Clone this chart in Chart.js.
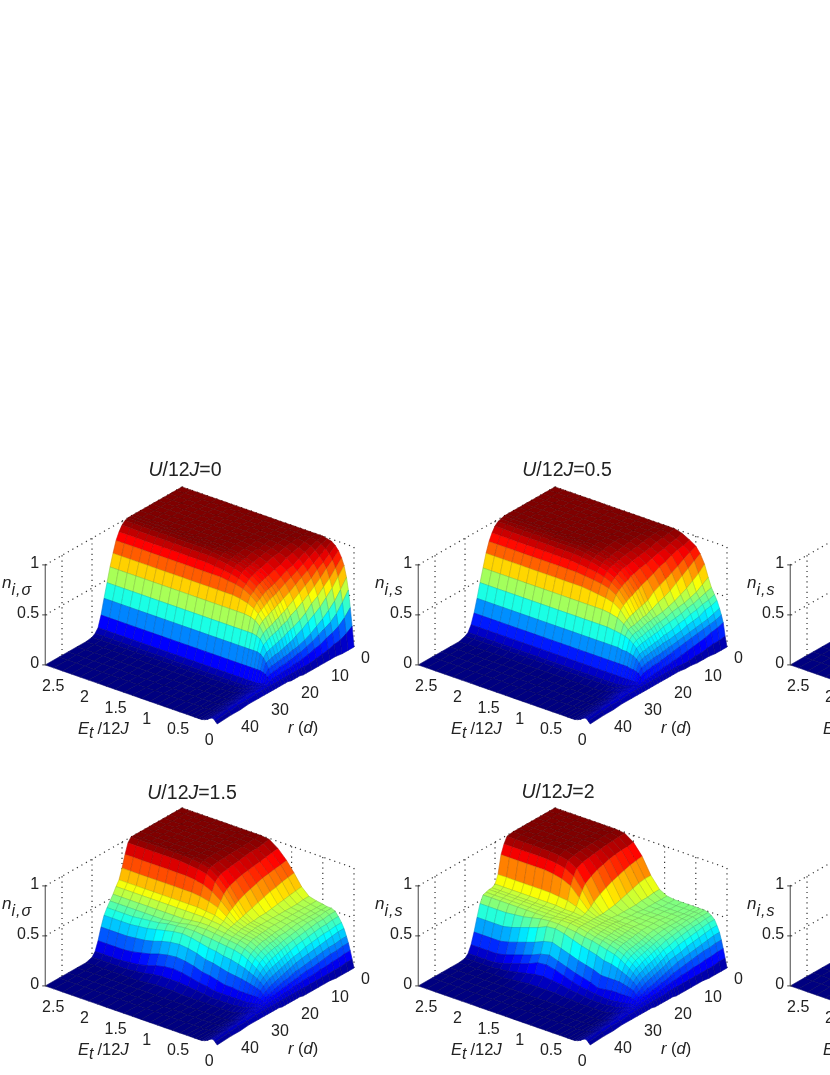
<!DOCTYPE html>
<html>
<head>
<meta charset="utf-8">
<script src="https://cdn.jsdelivr.net/npm/chart.js@4"></script>
<style>
html, body { margin: 0; padding: 0; background: #fff; width: 830px; height: 1075px; overflow: hidden; }
#page { position: relative; width: 830px; height: 1075px; overflow: hidden; font-family: "Liberation Sans", sans-serif; color: #222; }
.panel { position: absolute; width: 373px; height: 320px; }
.panel canvas { position: absolute; left: 0; top: 0; filter: blur(0.45px); }
.lbl { position: absolute; white-space: nowrap; font-size: 16.5px; line-height: 1; transform: translateY(-50%); }
.ttl { font-size: 19.5px; transform: translate(-50%, -50%); }
.nlb { font-size: 17px; }
.nlb sub { font-size: 16px; letter-spacing: 1px; vertical-align: -7px; line-height: 0; }
.etl sub { font-size: 16px; font-style: italic; vertical-align: -4px; line-height: 0; margin-right: 4px; }
</style>
</head>
<body>
<div id="page"></div>
<script>
// axis values
const eValues = [0,0.03,0.06,0.09,0.12,0.16,0.2,0.25,0.3,0.36,0.43,0.5,0.6,0.72,0.84,0.96,1.08,1.22,1.36,1.5,1.64,1.78,1.92,2.06,2.2,2.34,2.48,2.62,2.756];
const rValues = [0,2,4,6,8,10,12,14,16,17,18,19,20,21,22,23,24,25,26,27,28,29,30,32,35,38,41,45.6];
const eTicks = [0,0.5,1,1.5,2,2.5];
const rTicks = [0,10,20,30,40];
const zTicks = [0,0.5,1];

// n (in percent), one line per r, one column per E
const nU0 = [
[0,20,38,55,67,78,85,91,95,98,99,100,100,100,100,100,100,100,100,100,100,100,100,100,100,100,100,100,100],
[0,16,31,46,58,70,78,85,90,94,97,99,100,100,100,100,100,100,100,100,100,100,100,100,100,100,100,100,100],
[0,13,26,38,50,62,71,80,85,90,94,97,99,100,100,100,100,100,100,100,100,100,100,100,100,100,100,100,100],
[1,12,23,33,44,56,66,74,81,86,91,94,97,99,100,100,100,100,100,100,100,100,100,100,100,100,100,100,100],
[1,10,21,30,39,50,60,69,76,82,87,91,95,98,99,100,100,100,100,100,100,100,100,100,100,100,100,100,100],
[1,9,18,27,35,46,56,64,72,79,84,88,93,96,98,99,100,100,100,100,100,100,100,100,100,100,100,100,100],
[1,8,17,24,31,42,50,60,68,75,81,86,90,95,97,98,99,100,100,100,100,100,100,100,100,100,100,100,100],
[1,7,15,22,28,38,46,56,64,71,78,83,88,93,96,98,99,100,100,100,100,100,100,100,100,100,100,100,100],
[1,7,14,20,26,35,43,53,60,68,75,80,86,91,94,96,98,99,100,100,100,100,100,100,100,100,100,100,100],
[1,7,13,20,25,33,42,50,58,66,73,79,85,90,93,96,98,99,100,100,100,100,100,100,100,100,100,100,100],
[2,7,13,19,25,32,41,49,57,65,72,78,84,89,93,95,97,99,99,100,100,100,100,100,100,100,100,100,100],
[2,7,13,18,24,31,39,48,55,63,71,77,83,88,92,95,96,97,98,99,99,99,99,99,99,99,99,99,99],
[2,7,12,18,23,30,38,46,54,62,69,75,81,86,90,92,94,95,96,96,96,96,96,96,96,96,96,96,96],
[2,7,12,17,23,29,37,45,52,60,67,73,78,83,86,88,89,90,91,91,91,91,91,91,91,91,91,91,91],
[3,7,12,17,22,28,36,44,51,59,65,71,76,80,82,83,84,84,84,84,84,84,84,84,84,84,84,84,84],
[3,7,12,17,22,28,35,43,50,57,63,67,70,72,73,73,73,73,73,73,73,73,73,73,73,73,73,73,73],
[3,7,11,16,21,27,34,41,48,54,58,60,61,61,61,61,61,61,61,61,61,61,61,61,61,61,61,61,61],
[3,7,11,16,21,26,33,39,44,46,47,47,47,47,47,47,47,47,47,47,47,47,47,47,47,47,47,47,47],
[3,7,11,15,20,25,29,32,33,33,33,33,33,33,33,33,33,33,33,33,33,33,33,33,33,33,33,33,33],
[3,7,10,14,16,17,18,18,18,18,18,18,18,18,18,18,18,18,18,18,18,18,18,18,18,18,18,18,18],
[3,7,8,9,8,8,7,7,7,7,7,7,7,7,7,7,7,7,7,7,7,7,7,7,7,7,7,7,7],
[3,7,9,8,8,7,6,5,4,3,3,3,3,3,3,3,3,3,3,3,3,3,3,3,3,3,3,3,3],
[3,7,9,8,7,6,5,4,3,2,1,1,1,1,1,1,1,1,1,1,1,1,1,1,1,1,1,1,1],
[3,7,9,8,7,6,4,3,2,1,0,0,0,0,0,0,0,0,0,0,0,0,0,0,0,0,0,0,0],
[3,6,8,8,6,5,4,2,1,0,0,0,0,0,0,0,0,0,0,0,0,0,0,0,0,0,0,0,0],
[2,6,8,7,6,4,3,2,1,0,0,0,0,0,0,0,0,0,0,0,0,0,0,0,0,0,0,0,0],
[2,5,7,6,5,3,2,1,0,0,0,0,0,0,0,0,0,0,0,0,0,0,0,0,0,0,0,0,0],
[1,3,5,5,4,2,1,0,0,0,0,0,0,0,0,0,0,0,0,0,0,0,0,0,0,0,0,0,0]
];
const nU05 = [
[0,10,23,30,36,43,48,54,63,75,84,90,94,98,100,100,100,100,100,100,100,100,100,100,100,100,100,100,100],
[0,9,21,28,34,41,46,52,59,69,80,87,92,96,99,100,100,100,100,100,100,100,100,100,100,100,100,100,100],
[0,9,20,27,32,40,45,50,55,65,76,84,91,95,98,100,100,100,100,100,100,100,100,100,100,100,100,100,100],
[1,8,18,26,31,37,43,48,53,61,72,80,89,93,97,99,100,100,100,100,100,100,100,100,100,100,100,100,100],
[1,7,17,25,30,36,42,47,51,58,68,77,86,92,95,98,100,100,100,100,100,100,100,100,100,100,100,100,100],
[1,7,16,24,29,35,40,45,50,55,64,74,84,90,94,97,99,100,100,100,100,100,100,100,100,100,100,100,100],
[2,6,15,23,28,33,39,44,49,53,61,71,81,88,93,96,98,100,100,100,100,100,100,100,100,100,100,100,100],
[2,6,14,22,27,32,37,43,47,51,59,68,78,87,92,95,97,99,100,100,100,100,100,100,100,100,100,100,100],
[3,7,13,21,26,31,36,42,46,50,56,63,76,85,90,94,96,98,100,100,100,100,100,100,100,100,100,100,100],
[3,7,13,20,26,31,36,41,46,50,55,62,74,84,90,93,95,98,99,100,100,100,100,100,100,100,100,100,100],
[3,7,12,20,25,31,35,40,45,49,53,61,73,82,89,92,95,97,98,99,99,99,99,99,99,99,99,99,99],
[3,7,12,19,25,30,34,40,44,49,53,60,71,81,87,91,93,95,97,98,98,98,98,98,98,98,98,98,98],
[3,7,12,19,24,30,34,39,44,48,52,59,70,79,85,89,91,93,94,95,95,95,95,95,95,95,95,95,95],
[3,7,11,18,24,29,33,39,43,47,51,58,68,77,82,85,87,88,89,90,90,90,90,90,90,90,90,90,90],
[3,7,11,18,24,29,33,38,42,46,50,57,66,74,78,80,81,82,83,83,83,83,83,83,83,83,83,83,83],
[3,7,11,18,23,28,32,38,42,46,50,55,63,68,70,71,72,73,73,73,73,73,73,73,73,73,73,73,73],
[3,7,10,17,23,28,32,37,41,45,49,53,57,59,60,60,60,60,60,60,60,60,60,60,60,60,60,60,60],
[3,7,10,17,22,27,31,36,39,42,44,45,46,47,47,47,47,47,47,47,47,47,47,47,47,47,47,47,47],
[3,7,10,16,21,25,28,30,31,32,32,33,33,33,33,33,33,33,33,33,33,33,33,33,33,33,33,33,33],
[3,7,9,14,17,18,19,19,20,20,20,20,20,20,20,20,20,20,20,20,20,20,20,20,20,20,20,20,20],
[3,7,8,10,10,10,10,10,10,10,10,10,10,10,10,10,10,10,10,10,10,10,10,10,10,10,10,10,10],
[3,7,9,9,8,7,6,5,5,4,4,4,4,4,4,4,4,4,4,4,4,4,4,4,4,4,4,4,4],
[3,7,9,9,8,7,6,5,4,3,2,2,2,2,2,2,2,2,2,2,2,2,2,2,2,2,2,2,2],
[3,7,9,9,8,7,5,4,3,2,1,0,0,0,0,0,0,0,0,0,0,0,0,0,0,0,0,0,0],
[3,6,8,8,6,5,4,2,1,0,0,0,0,0,0,0,0,0,0,0,0,0,0,0,0,0,0,0,0],
[2,6,8,7,6,4,3,2,1,0,0,0,0,0,0,0,0,0,0,0,0,0,0,0,0,0,0,0,0],
[2,5,7,6,5,3,2,1,0,0,0,0,0,0,0,0,0,0,0,0,0,0,0,0,0,0,0,0,0],
[1,3,5,5,4,2,1,0,0,0,0,0,0,0,0,0,0,0,0,0,0,0,0,0,0,0,0,0,0]
];
const nU15 = [
[0,8,16,23,29,36,41,46,50,52,52,53,54,56,63,74,84,93,99,100,100,100,100,100,100,100,100,100,100],
[0,8,16,23,29,36,41,46,50,52,52,53,54,56,62,73,83,92,98,100,100,100,100,100,100,100,100,100,100],
[0,7,15,22,28,35,40,45,49,51,52,53,54,55,61,72,82,91,97,100,100,100,100,100,100,100,100,100,100],
[0,7,15,22,28,34,40,45,49,51,52,53,54,55,60,70,81,90,97,99,100,100,100,100,100,100,100,100,100],
[1,7,14,21,27,33,39,44,48,51,52,53,54,55,59,69,80,89,96,99,100,100,100,100,100,100,100,100,100],
[1,7,14,20,26,32,38,43,47,50,52,53,54,55,58,67,78,88,95,99,100,100,100,100,100,100,100,100,100],
[1,7,13,19,25,31,37,42,46,49,51,53,54,55,57,65,76,87,94,98,100,100,100,100,100,100,100,100,100],
[1,7,13,19,24,30,35,41,45,48,50,52,54,55,57,63,74,85,93,98,100,100,100,100,100,100,100,100,100],
[1,7,13,18,23,29,34,39,44,47,50,52,54,55,56,61,71,83,92,97,99,100,100,100,100,100,100,100,100],
[1,7,12,17,23,28,33,38,43,46,49,51,53,55,56,60,69,81,90,96,98,99,100,100,100,100,100,100,100],
[2,7,12,17,22,27,32,37,42,45,48,51,53,55,56,59,67,78,87,92,94,95,96,96,96,96,96,96,96],
[2,7,12,16,21,26,31,36,41,45,48,50,53,54,55,58,65,73,79,83,85,86,86,86,86,86,86,86,86],
[2,7,11,16,20,25,30,35,40,44,47,50,52,54,55,57,62,68,71,73,74,74,74,74,74,74,74,74,74],
[2,7,11,15,20,24,29,34,39,43,46,49,52,53,54,56,59,62,63,64,64,64,64,64,64,64,64,64,64],
[2,7,11,15,19,23,28,33,38,42,45,48,51,52,53,55,57,58,59,59,59,59,59,59,59,59,59,59,59],
[2,7,11,14,18,22,27,32,36,40,43,46,49,51,52,53,54,55,55,54,53,53,53,53,53,53,53,53,53],
[2,7,10,14,17,21,26,30,34,38,41,44,47,49,50,51,52,53,53,52,50,49,48,48,48,48,48,48,48],
[3,7,10,13,16,20,24,28,31,34,37,40,43,45,46,47,48,49,50,50,49,48,46,45,44,43,43,43,43],
[3,7,10,13,15,18,22,25,27,29,31,33,35,37,38,40,41,43,45,46,45,43,41,39,38,37,37,37,37],
[3,7,10,12,14,16,19,20,21,22,23,24,25,26,28,30,31,34,36,37,36,34,31,29,28,27,27,27,27],
[3,7,9,11,12,13,14,14,14,14,14,14,15,15,17,19,20,23,25,26,25,23,20,18,16,15,15,15,15],
[3,7,9,10,10,10,9,9,8,8,8,8,8,8,8,10,11,13,15,16,15,13,10,8,7,6,6,6,6],
[3,7,9,9,9,8,7,6,5,4,4,3,3,3,3,4,5,6,7,7,7,6,4,3,2,2,2,2,2],
[3,7,9,9,8,7,5,4,3,2,1,1,1,1,1,1,1,1,2,2,2,1,0,0,0,0,0,0,0],
[3,6,8,8,6,5,4,2,1,0,0,0,0,0,0,0,0,0,0,0,0,0,0,0,0,0,0,0,0],
[2,6,8,7,6,4,3,2,1,0,0,0,0,0,0,0,0,0,0,0,0,0,0,0,0,0,0,0,0],
[2,5,7,6,5,3,2,1,0,0,0,0,0,0,0,0,0,0,0,0,0,0,0,0,0,0,0,0,0],
[1,3,5,5,4,2,1,0,0,0,0,0,0,0,0,0,0,0,0,0,0,0,0,0,0,0,0,0,0]
];
const nU2 = [
[0,9,18,26,33,39,44,47,49,50,50,50,50,50,50,51,55,66,82,93,99,100,100,100,100,100,100,100,100],
[0,9,18,26,33,39,44,47,49,50,50,50,50,50,50,51,55,66,81,92,99,100,100,100,100,100,100,100,100],
[0,8,17,25,32,38,43,46,49,50,50,50,50,50,50,51,54,65,80,92,98,100,100,100,100,100,100,100,100],
[0,8,17,25,31,37,42,46,48,50,50,51,51,51,51,51,54,63,78,91,98,100,100,100,100,100,100,100,100],
[1,8,16,24,30,36,41,45,48,49,50,51,51,51,51,51,53,61,76,90,97,100,100,100,100,100,100,100,100],
[1,8,16,23,29,35,40,44,47,49,50,51,52,52,52,52,53,59,74,88,96,99,100,100,100,100,100,100,100],
[1,8,15,22,28,33,39,43,46,48,50,51,52,52,52,52,53,57,71,86,95,99,100,100,100,100,100,100,100],
[1,8,15,21,27,32,37,41,45,47,49,51,52,52,53,53,53,56,68,83,94,98,100,100,100,100,100,100,100],
[1,8,14,20,25,31,36,40,43,46,48,50,52,53,53,53,54,55,64,79,91,96,98,99,99,99,99,99,99],
[1,8,14,19,24,29,34,38,42,45,47,49,51,53,53,54,54,55,61,74,85,90,92,93,93,93,93,93,93],
[2,8,13,18,23,28,33,37,41,44,46,48,51,52,53,54,54,55,59,68,77,81,83,84,84,84,84,84,84],
[2,8,13,17,22,27,31,36,40,43,45,47,50,52,53,54,54,55,57,61,64,65,66,66,66,66,66,66,66],
[2,7,12,17,21,26,30,35,39,42,45,47,50,51,53,54,54,55,56,57,57,58,58,58,58,58,58,58,58],
[2,7,12,16,20,25,29,34,38,41,44,46,49,51,52,53,54,55,56,56,56,56,56,56,56,56,56,56,56],
[2,7,11,15,19,24,28,33,37,40,43,46,49,50,52,53,54,55,56,56,56,56,56,56,56,56,56,56,56],
[2,7,11,15,18,23,27,31,35,39,42,45,48,50,51,52,54,55,56,56,55,55,55,55,55,55,55,55,55],
[2,7,11,14,18,22,26,30,34,37,40,43,46,48,50,51,53,55,56,56,55,54,54,54,54,54,54,54,54],
[3,7,10,13,16,20,24,28,31,34,37,40,43,45,47,49,50,52,53,54,54,53,51,49,48,47,47,47,47],
[3,7,10,13,15,18,22,25,27,29,31,33,35,36,39,41,43,46,49,51,50,46,43,40,37,35,35,35,35],
[3,7,10,12,14,16,19,20,21,22,23,23,23,23,26,28,30,33,36,39,37,33,30,27,24,22,22,22,22],
[3,7,9,11,12,13,14,14,14,14,14,14,13,12,15,17,19,22,25,28,26,22,19,16,13,11,11,11,11],
[3,7,9,10,10,10,9,9,8,8,7,7,7,8,9,10,12,15,18,20,19,15,12,9,6,4,4,4,4],
[3,7,9,9,9,8,7,6,5,4,4,3,3,3,4,5,6,8,9,10,9,7,5,3,2,1,1,1,1],
[3,7,9,9,8,7,5,4,3,2,1,1,1,1,1,2,2,3,3,3,3,2,1,0,0,0,0,0,0],
[3,6,8,8,6,5,4,2,1,0,0,0,0,0,0,0,0,0,0,0,0,0,0,0,0,0,0,0,0],
[2,6,8,7,6,4,3,2,1,0,0,0,0,0,0,0,0,0,0,0,0,0,0,0,0,0,0,0,0],
[2,5,7,6,5,3,2,1,0,0,0,0,0,0,0,0,0,0,0,0,0,0,0,0,0,0,0,0,0],
[1,3,5,5,4,2,1,0,0,0,0,0,0,0,0,0,0,0,0,0,0,0,0,0,0,0,0,0,0]
];
// the two panels cut off by the right edge: only the floor corner shows
const sideE = [2.06,2.2,2.34,2.48,2.62,2.756];
const sideR = [32,35,38,41,45.6];
const nSide = [
[0,0,0,0,0,0],
[0,0,0,0,0,0],
[0,0,0,0,0,0],
[0,0,0,0,0,0],
[0,0,0,0,0,0]
];

const E_MAX = 2.756, R_MAX = 45.6;

// fixed view of the 3D box, in the units of the two linear scales
const planeX = (e, r) => 354 - 62.4 * e - 3 * r;
const planeY = (e, r, z) => 100 * z + 21.8 * e - 1.71 * r;

function jet(v) {
    const c = x => Math.round(255 * Math.max(0, Math.min(1, x)));
    return `rgb(${c(1.5 - Math.abs(4 * v - 3))},${c(1.5 - Math.abs(4 * v - 2))},${c(1.5 - Math.abs(4 * v - 1))})`;
}

const surfacePlugin = {
    id: 'surface',
    beforeDatasetsDraw(chart, args, opts) {
        const ctx = chart.ctx;
        const pt = (e, r, z) => [chart.scales.x.getPixelForValue(planeX(e, r)), chart.scales.y.getPixelForValue(planeY(e, r, z))];
        const seg = (a, b) => { ctx.beginPath(); ctx.moveTo(a[0], a[1]); ctx.lineTo(b[0], b[1]); ctx.stroke(); };
        ctx.save();
        ctx.strokeStyle = '#333';
        ctx.lineWidth = 1.2;
        ctx.setLineDash([1.2, 4]);
        // back walls
        zTicks.filter(z => z > 0).forEach(z => {
            seg(pt(E_MAX, R_MAX, z), pt(E_MAX, 0, z));
            seg(pt(E_MAX, 0, z), pt(0, 0, z));
        });
        rTicks.forEach(r => seg(pt(E_MAX, r, 0), pt(E_MAX, r, 1)));
        eTicks.forEach(e => seg(pt(e, 0, 0), pt(e, 0, 1)));
        seg(pt(E_MAX, 0, 0), pt(E_MAX, 0, 1));
        ctx.restore();
    },
    afterDatasetsDraw(chart, args, opts) {
        const ctx = chart.ctx;
        const es = opts.es, rs = opts.rs, grid = opts.grid;
        const pts = chart.getDatasetMeta(0).data;
        const nE = es.length;
        ctx.save();
        ctx.lineJoin = 'round';
        // back to front: r grows towards the viewer, E shrinks towards the viewer
        for (let i = 0; i < rs.length - 1; i++) {
            for (let j = nE - 2; j >= 0; j--) {
                const a = pts[i * nE + j], b = pts[i * nE + j + 1], c = pts[(i + 1) * nE + j + 1], d = pts[(i + 1) * nE + j];
                const v = (grid[i][j] + grid[i][j + 1] + grid[i + 1][j] + grid[i + 1][j + 1]) / 400;
                ctx.beginPath();
                ctx.moveTo(a.x, a.y);
                ctx.lineTo(b.x, b.y);
                ctx.lineTo(c.x, c.y);
                ctx.lineTo(d.x, d.y);
                ctx.closePath();
                ctx.fillStyle = jet(v);
                ctx.fill();
                ctx.strokeStyle = jet(v);
                ctx.lineWidth = 0.5;
                ctx.stroke();
                ctx.strokeStyle = 'rgba(0,0,0,0.24)';
                ctx.lineWidth = 0.5;
                ctx.stroke();
            }
        }
        // axes and tick labels
        const xs = chart.scales.x, ys = chart.scales.y;
        const pt = (e, r, z) => [xs.getPixelForValue(planeX(e, r)), ys.getPixelForValue(planeY(e, r, z))];
        ctx.strokeStyle = '#444';
        ctx.lineWidth = 1;
        const o = pt(E_MAX, R_MAX, 0), top = pt(E_MAX, R_MAX, 1);
        ctx.beginPath(); ctx.moveTo(o[0], o[1]); ctx.lineTo(top[0], top[1]); ctx.stroke();
        ctx.fillStyle = '#222';
        ctx.font = '16px "Liberation Sans", sans-serif';
        ctx.textBaseline = 'middle';
        ctx.textAlign = 'right';
        zTicks.forEach(z => {
            const p = pt(E_MAX, R_MAX, z);
            ctx.beginPath(); ctx.moveTo(p[0] - 3, p[1]); ctx.lineTo(p[0] + 2, p[1]); ctx.stroke();
            ctx.fillText(String(z), p[0] - 6, p[1] - 1);
        });
        ctx.textAlign = 'center';
        eTicks.forEach(e => {
            const p = pt(e, R_MAX, 0);
            ctx.fillText(String(e), p[0] - 8, p[1] + 16);
        });
        ctx.textAlign = 'left';
        rTicks.forEach(r => {
            const p = pt(0, r, 0);
            ctx.fillText(String(r), p[0] + 7, p[1] + 12);
        });
        ctx.restore();
    }
};

const panels = [
    { left: 0, top: 450, es: eValues, rs: rValues, grid: nU0, title: '<i>U</i>/12<i>J</i>=0', titleX: 185, titleY: 20, sub: 'i,σ' },
    { left: 373, top: 450, es: eValues, rs: rValues, grid: nU05, title: '<i>U</i>/12<i>J</i>=0.5', titleX: 194, titleY: 20, sub: 'i,s' },
    { left: 745, top: 450, es: sideE, rs: sideR, grid: nSide, sub: 'i,s' },
    { left: 0, top: 771, es: eValues, rs: rValues, grid: nU15, title: '<i>U</i>/12<i>J</i>=1.5', titleX: 192, titleY: 22, sub: 'i,σ' },
    { left: 373, top: 771, es: eValues, rs: rValues, grid: nU2, title: '<i>U</i>/12<i>J</i>=2', titleX: 185, titleY: 21, sub: 'i,s' },
    { left: 745, top: 771, es: sideE, rs: sideR, grid: nSide, sub: 'i,s' }
];

function addLabel(box, cls, html, x, y) {
    const el = document.createElement('div');
    el.className = 'lbl ' + cls;
    el.innerHTML = html;
    el.style.left = x + 'px';
    el.style.top = y + 'px';
    box.appendChild(el);
}

const page = document.getElementById('page');
panels.forEach(p => {
    const box = document.createElement('div');
    box.className = 'panel';
    box.style.left = p.left + 'px';
    box.style.top = p.top + 'px';
    const canvas = document.createElement('canvas');
    canvas.width = 373;
    canvas.height = 320;
    canvas.style.width = '373px';
    canvas.style.height = '320px';
    box.appendChild(canvas);
    page.appendChild(box);

    const points = [];
    p.rs.forEach((r, i) => p.es.forEach((e, j) => {
        points.push({ x: planeX(e, r), y: planeY(e, r, p.grid[i][j] / 100) });
    }));

    new Chart(canvas, {
        type: 'scatter',
        data: { datasets: [{ data: points, pointRadius: 0, clip: false }] },
        options: {
            responsive: false,
            animation: false,
            devicePixelRatio: 1,
            layout: { padding: 0 },
            scales: {
                x: { type: 'linear', min: 0, max: 373, display: false },
                y: { type: 'linear', min: -123, max: 197, display: false }
            },
            plugins: {
                legend: { display: false },
                tooltip: { enabled: false },
                surface: { es: p.es, rs: p.rs, grid: p.grid }
            }
        },
        plugins: [surfacePlugin]
    });

    if (p.title) addLabel(box, 'ttl', p.title, p.titleX, p.titleY);
    addLabel(box, 'nlb', `<i>n</i><sub><i>${p.sub}</i></sub>`, 2, 132);
    addLabel(box, 'etl', '<i>E</i><sub>t</sub>/12<i>J</i>', 78, 278);
    addLabel(box, 'rlb', '<i>r</i> (<i>d</i>)', 288, 277);
});
</script>
</body>
</html>
